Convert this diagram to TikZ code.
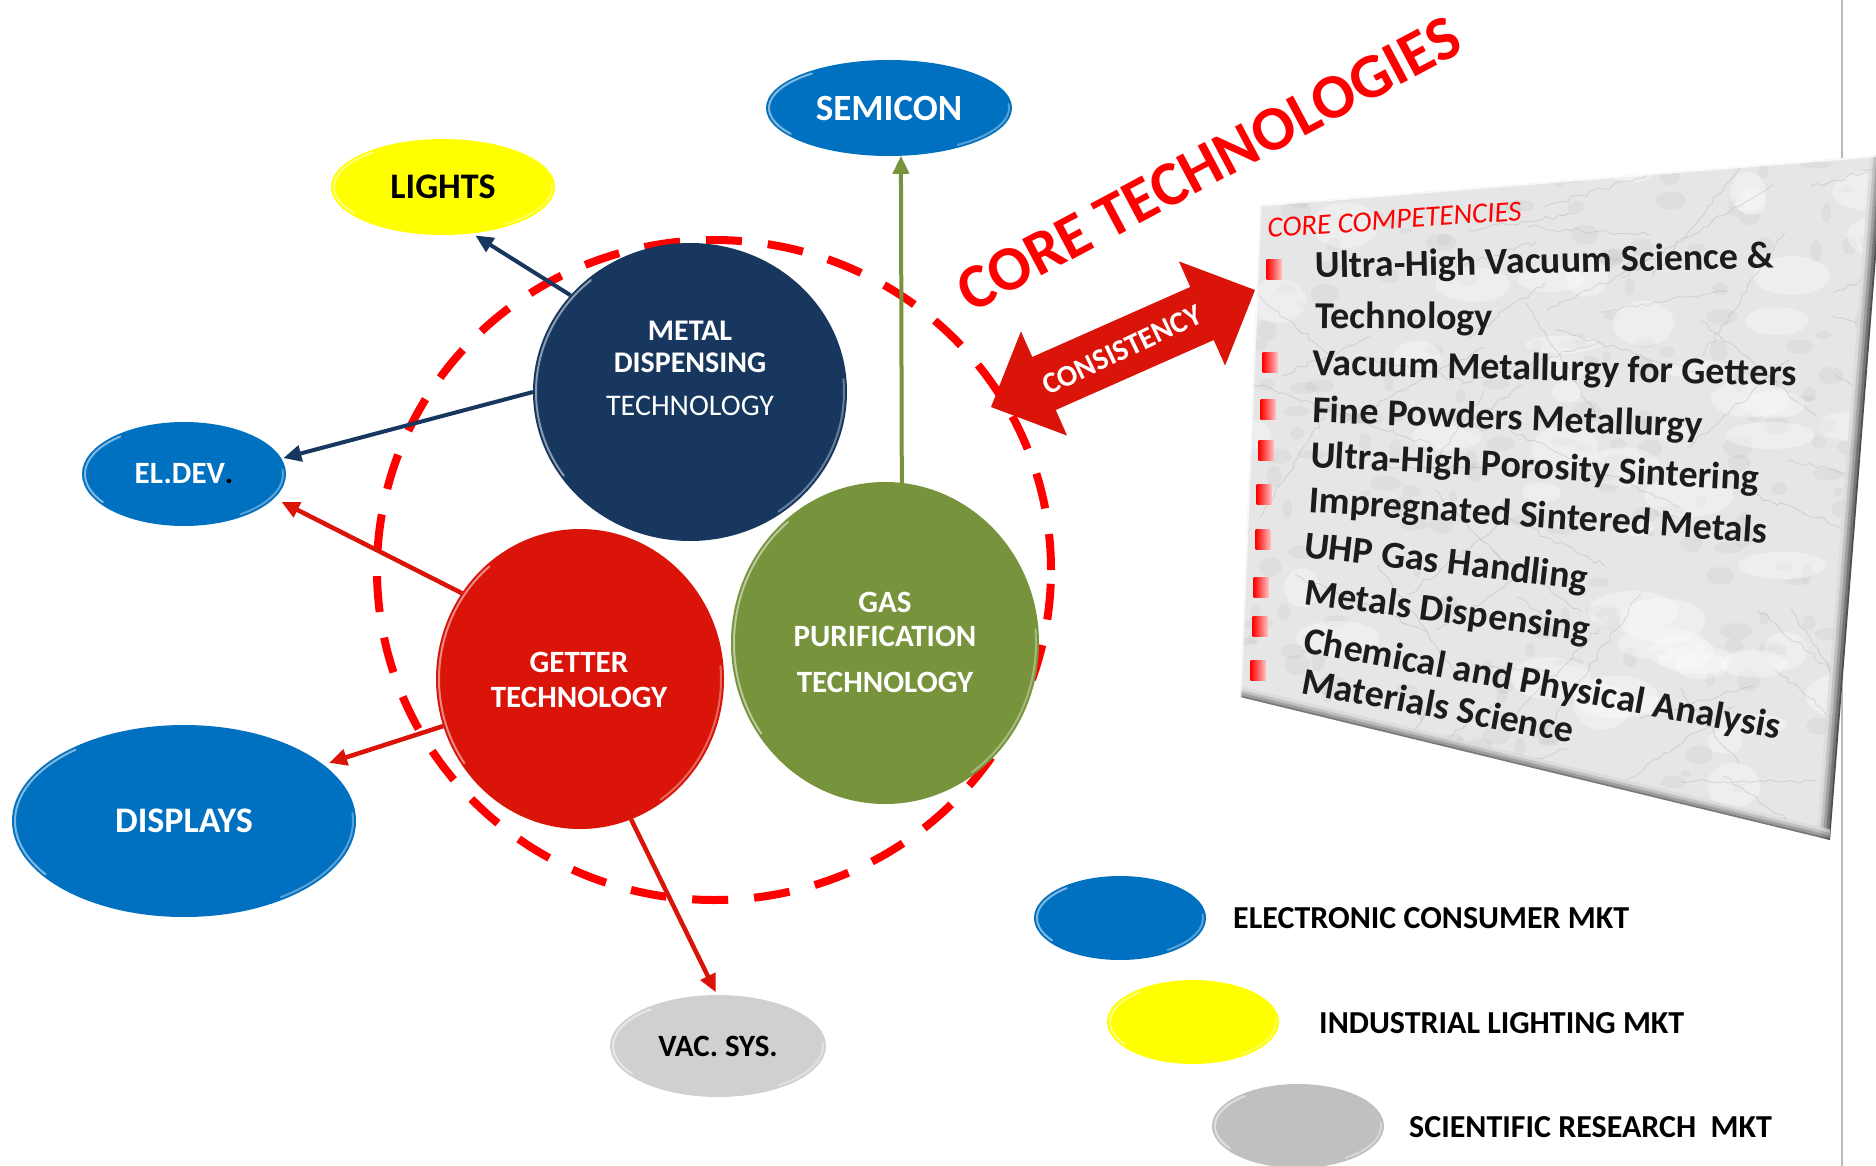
\documentclass[tikz,border=0pt]{standalone}
\usepackage{fontspec}
\setmainfont{Carlito}
\usetikzlibrary{arrows.meta,shapes.geometric,decorations.pathmorphing}
\definecolor{bluec}{RGB}{0,112,192}
\definecolor{yelc}{RGB}{255,255,0}
\definecolor{vacgray}{RGB}{208,208,208}
\definecolor{leggray}{RGB}{192,192,192}
\definecolor{navyc}{RGB}{23,55,94}
\definecolor{getred}{RGB}{218,20,8}
\definecolor{greenc}{RGB}{119,147,60}
\definecolor{ringred}{RGB}{255,0,0}
\definecolor{inkc}{RGB}{28,28,28}
\definecolor{marble}{RGB}{230,230,230}
\newcommand\fsz[2]{\fontsize{#1}{#2}\selectfont}
\newcommand\glint[3]{%
  \draw[white, opacity=0.5, line width=2pt, line cap=round] ([shift={(130:#2pt and #3pt)}]#1.center) arc[start angle=130, end angle=215, x radius=#2pt, y radius=#3pt];
  \draw[white, opacity=0.35, line width=2pt, line cap=round] ([shift={(-55:#2pt and #3pt)}]#1.center) arc[start angle=-55, end angle=5, x radius=#2pt, y radius=#3pt];
}
\begin{document}
\begin{tikzpicture}[x=1pt,y=-1pt,
  blob/.style={ellipse, inner sep=0pt, outer sep=0pt, draw=none},
  ctext/.style={anchor=base, inner sep=0pt, text=white, font=\bfseries\fsz{30}{33}},
  etext/.style={text=white, font=\bfseries\fsz{36}{40}},
  ptext/.style={anchor=base west, inner sep=0pt, text=inkc, font=\bfseries\fsz{38}{42}},
  legtext/.style={anchor=base west, inner sep=0pt, text=black, font=\bfseries\fsz{32}{35}},
  bulletbox/.style={rectangle, inner sep=0pt, minimum width=15pt, minimum height=20pt, left color=red, right color=red!25},
  navyarr/.style={draw=navyc, line width=4pt, -{Triangle[length=18pt,width=16pt]}},
  redarr/.style={draw=getred, line width=4.5pt, -{Triangle[length=18pt,width=16pt]}},
  greenarr/.style={draw=greenc, line width=4pt, -{Triangle[length=18pt,width=16pt]}},
]
\useasboundingbox (0,0) rectangle (1876,1166);
\fill[white] (0,0) rectangle (1876,1166);

% page border line
\draw[gray!55, line width=2pt] (1842,0) -- (1842,1166);

% ---------- marble panel ----------
\coordinate (p1) at (1260,205);
\coordinate (p2) at (1884,155);
\coordinate (p3) at (1830,840);
\coordinate (p4) at (1240,697);
\fill[marble] (p1) -- (p2) -- (p3) -- (p4) -- cycle;
\begin{scope}
  \clip (p1) -- (p2) -- (p3) -- (p4) -- cycle;
  \pgfmathsetseed{42}
  \foreach \i in {1,...,260}{
    \pgfmathsetmacro\mxa{1230+660*rnd}
    \pgfmathsetmacro\mya{150+700*rnd}
    \pgfmathsetmacro\mra{4+12*rnd}
    \pgfmathsetmacro\mrb{3+8*rnd}
    \fill[gray!80, opacity=0.10] (\mxa,\mya) ellipse [x radius=\mra pt, y radius=\mrb pt];
  }
  \foreach \i in {1,...,60}{
    \pgfmathsetmacro\mxa{1230+660*rnd}
    \pgfmathsetmacro\mya{150+700*rnd}
    \pgfmathsetmacro\mra{15+30*rnd}
    \pgfmathsetmacro\mrb{8+15*rnd}
    \fill[white, opacity=0.35] (\mxa,\mya) ellipse [x radius=\mra pt, y radius=\mrb pt];
  }
  \foreach \i in {1,...,70}{
    \pgfmathsetmacro\mxa{1230+660*rnd}
    \pgfmathsetmacro\mya{150+700*rnd}
    \pgfmathsetmacro\man{-60+120*rnd}
    \pgfmathsetmacro\mln{60+140*rnd}
    \draw[gray!80, opacity=0.3, line width=0.8pt, decorate, decoration={random steps, segment length=6pt, amplitude=2.5pt}] (\mxa,\mya) -- ++(\man:\mln pt);
  }
  \foreach \k/\c in {0/85,3/65,6/45,9/28,12/14}{
    \draw[black!\c, line width=3.5pt, opacity=0.8] ([xshift=-\k pt]p2) -- ([xshift=-\k pt]p3);
  }
  \foreach \k/\c in {0/70,3/50,6/30,9/15}{
    \draw[black!\c, line width=3.5pt, opacity=0.7] ([yshift=\k pt]p4) -- ([yshift=\k pt]p3);
  }
  \draw[white, opacity=0.8, line width=3pt] (p4) -- (p1) -- (p2);
\end{scope}

% panel text
\node[anchor=base west, inner sep=0pt, text=ringred, font=\itshape\fsz{29}{32}, rotate=4] (cc) at (1268,238) {CORE COMPETENCIES};
\node[bulletbox] (b1) at (1274,270) {};
\node[bulletbox] (b2) at (1270,362) {};
\node[bulletbox] (b3) at (1268,409) {};
\node[bulletbox] (b4) at (1266,450) {};
\node[bulletbox] (b5) at (1264,494) {};
\node[bulletbox] (b6) at (1263,539) {};
\node[bulletbox] (b7) at (1261,587) {};
\node[bulletbox] (b8) at (1260,626) {};
\node[bulletbox] (b9) at (1258,670) {};
\node[ptext, rotate=1.2] (t1) at (1315,278) {Ultra-High Vacuum Science \&};
\node[ptext, rotate=-0.5] (t2) at (1315,328) {Technology};
\node[ptext, rotate=-1.3] (t3) at (1312,375) {Vacuum Metallurgy for Getters};
\node[ptext, rotate=-2.3] (t4) at (1312,422) {Fine Powders Metallurgy};
\node[ptext, rotate=-3] (t5) at (1310,467) {Ultra-High Porosity Sintering};
\node[ptext, rotate=-3.9] (t6) at (1308,512) {Impregnated Sintered Metals};
\node[ptext, rotate=-6.7] (t7) at (1303,557) {UHP Gas Handling};
\node[ptext, rotate=-7.5] (t8) at (1303,604) {Metals Dispensing};
\node[ptext, rotate=-10.4] (t9) at (1302,652) {Chemical and Physical Analysis};
\node[ptext, rotate=-10.5] (t10) at (1300,693) {Materials Science};

% ---------- core technologies title ----------
\node[rotate=28, text=ringred, font=\bfseries\fsz{63}{70}, inner sep=0pt] (coretech) at (1209,164) {CORE TECHNOLOGIES};

% ---------- consistency double arrow ----------
\begin{scope}[shift={(1123,348.5)}, rotate=23.9]
  \fill[getred] (-144.4,0) -- (-86.4,57) -- (-86.4,29) -- (86.4,29) -- (86.4,57) -- (144.4,0)
    -- (86.4,-57) -- (86.4,-29) -- (-86.4,-29) -- (-86.4,-57) -- cycle;
\end{scope}
\node[rotate=25.5, text=white, font=\bfseries\fsz{30}{33}, inner sep=0pt] (consist) at (1122,350) {CONSISTENCY};

% ---------- dashed ring ----------
\node[ellipse, draw=ringred, line width=8pt, dash pattern=on 36pt off 26pt, minimum width=674pt, minimum height=660pt, inner sep=0pt] (ring) at (714,570) {};

% ---------- technology circles ----------
\node[blob, fill=navyc, minimum width=314pt, minimum height=298pt] (metal) at (690,392) {};
\node[blob, fill=getred, minimum width=288pt, minimum height=300pt] (getter) at (580,679) {};
\node[blob, fill=greenc, minimum width=308pt, minimum height=322pt] (gas) at (885,643) {};
\glint{metal}{154}{146}
\glint{getter}{141}{147}
\glint{gas}{151}{158}

\node[ctext] (m1) at (690,340) {METAL};
\node[ctext] (m2) at (690,372) {DISPENSING};
\node[ctext, font=\fsz{30}{33}] (m3) at (690,415) {TECHNOLOGY};
\node[ctext, font=\bfseries\fsz{31}{34}] (g1) at (579,672) {GETTER};
\node[ctext, font=\bfseries\fsz{31}{34}] (g2) at (579,707) {TECHNOLOGY};
\node[ctext, font=\bfseries\fsz{31}{34}] (s1) at (885,612) {GAS};
\node[ctext, font=\bfseries\fsz{31}{34}] (s2) at (885,646) {PURIFICATION};
\node[ctext, font=\bfseries\fsz{31}{34}] (s3) at (885,692) {TECHNOLOGY};

% ---------- market ellipses ----------
\node[blob, fill=bluec, minimum width=246pt, minimum height=96pt, etext, font=\bfseries\fsz{37}{40}] (semicon) at (889,108) {SEMICON};
\node[blob, fill=yelc, minimum width=224pt, minimum height=96pt, etext, text=black] (lights) at (443,187) {LIGHTS};
\node[blob, fill=bluec, minimum width=204pt, minimum height=104pt, etext, font=\bfseries\fsz{31}{34}] (eldev) at (184,474) {EL.DEV\textcolor{black}{.}};
\node[blob, fill=bluec, minimum width=344pt, minimum height=192pt, etext] (displays) at (184,821) {DISPLAYS};
\node[blob, fill=vacgray, minimum width=216pt, minimum height=102pt, etext, text=black, font=\bfseries\fsz{31}{34}] (vac) at (718,1046) {VAC. SYS.};
\glint{semicon}{120}{45}
\glint{lights}{109}{45}
\glint{eldev}{99}{49}
\glint{displays}{169}{93}
\glint{vac}{105}{48}

% ---------- connectors ----------
\draw[navyarr, shorten >=4pt] (metal.141) -- (lights.-58);
\draw[navyarr, shorten >=2pt] (metal.180) -- (eldev.9);
\draw[redarr, shorten >=8pt] (getter.144) -- (eldev.-15);
\draw[redarr, shorten >=6pt] (getter.199) -- (displays.22);
\draw[redarr, shorten >=3pt] (getter.-70) -- (vac.91);
\draw[greenarr] (gas.84) -- (semicon.-76);

% ---------- legend ----------
\node[blob, fill=bluec, minimum width=172pt, minimum height=84pt] (legblue) at (1120,918) {};
\node[blob, fill=yelc, minimum width=172pt, minimum height=84pt] (legyel) at (1193,1022) {};
\node[blob, fill=leggray, minimum width=172pt, minimum height=84pt] (leggry) at (1298,1126) {};
\glint{legblue}{83}{39}
\glint{legyel}{83}{39}
\glint{leggry}{83}{39}
\node[legtext] (l1) at (1233,928) {ELECTRONIC CONSUMER MKT};
\node[legtext] (l2) at (1319,1033) {INDUSTRIAL LIGHTING MKT};
\node[legtext] (l3) at (1409,1137) {SCIENTIFIC RESEARCH\ \ MKT};
\end{tikzpicture}
\end{document}
